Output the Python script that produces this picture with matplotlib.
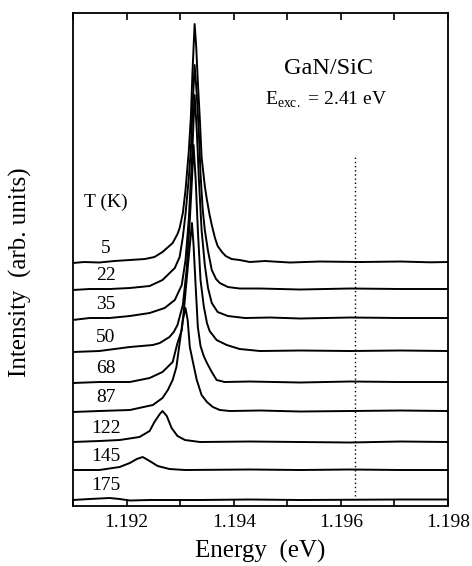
import matplotlib
matplotlib.use("Agg")
from matplotlib import pyplot as plt
from matplotlib.ticker import MultipleLocator, FormatStrFormatter

plt.rcParams['font.family'] = ['Liberation Serif', 'DejaVu Serif']
plt.rcParams['mathtext.fontset'] = 'custom'
plt.rcParams['mathtext.rm'] = 'Liberation Serif'

# temperatures (K) and vertical offsets of the stacked spectra
temps = [5, 22, 35, 50, 68, 87, 122, 145, 175]
offsets = [24.4, 21.7, 18.8, 15.5, 12.4, 9.5, 6.4, 3.6, 0.7]

# spectra: energy (eV), intensity (arb. units, above baseline)
e_5 = [1.19099, 1.19121, 1.19149, 1.19177, 1.19206, 1.19234, 1.19252, 1.19267, 1.19286, 1.19295,
       1.19299, 1.19305, 1.19310, 1.19316, 1.19320, 1.19323, 1.19327, 1.19330, 1.19333, 1.19337,
       1.19340, 1.19346, 1.19350, 1.19355, 1.19359, 1.19365, 1.19370, 1.19378, 1.19385, 1.19396,
       1.19411, 1.19430, 1.19458, 1.19505, 1.19561, 1.19636, 1.19711, 1.19767, 1.19800]
i_5 = [-0.1, 0, -0.05, 0.1, 0.2, 0.3, 0.5, 1.0, 1.9, 2.8,
       3.4, 4.9, 7.2, 11.0, 14.5, 19.0, 23.8, 21.5, 18.0, 14.0,
       10.5, 7.6, 6.2, 4.7, 3.7, 2.4, 1.6, 1.0, 0.6, 0.3,
       0.2, 0, 0.1, -0.05, 0.05, 0, 0.05, -0.03, 0]

e_22 = [1.19099, 1.19131, 1.19168, 1.19206, 1.19243, 1.19267, 1.19290, 1.19299, 1.19305, 1.19310,
        1.19316, 1.19320, 1.19323, 1.19327, 1.19331, 1.19335, 1.19338, 1.19342, 1.19346, 1.19352,
        1.19359, 1.19367, 1.19374, 1.19389, 1.19411, 1.19449, 1.19524, 1.19617, 1.19711, 1.19800]
i_22 = [-0.1, 0, 0, 0.1, 0.3, 0.9, 2.1, 3.2, 5.2, 7.5,
        11.0, 14.0, 18.0, 22.4, 19.5, 15.5, 11.5, 8.0, 5.9, 3.8,
        1.9, 1.0, 0.6, 0.2, 0.05, 0.05, -0.05, 0.05, 0, 0]

e_35 = [1.19099, 1.19131, 1.19168, 1.19206, 1.19243, 1.19271, 1.19290, 1.19303, 1.19310, 1.19316,
        1.19322, 1.19327, 1.19331, 1.19335, 1.19340, 1.19346, 1.19352, 1.19359, 1.19370, 1.19389,
        1.19421, 1.19468, 1.19524, 1.19617, 1.19711, 1.19800]
i_35 = [-0.2, 0, 0, 0.2, 0.5, 1.0, 1.8, 3.3, 5.8, 9.8,
        15.8, 22.3, 18.8, 13.8, 8.8, 5.3, 3.0, 1.5, 0.6, 0.2,
        0, 0.05, -0.05, 0.05, 0, 0]

e_50 = [1.19099, 1.19149, 1.19206, 1.19249, 1.19262, 1.19280, 1.19288, 1.19295, 1.19305, 1.19312,
        1.19318, 1.19322, 1.19325, 1.19329, 1.19333, 1.19338, 1.19344, 1.19350, 1.19355, 1.19368,
        1.19387, 1.19411, 1.19449, 1.19524, 1.19617, 1.19711, 1.19800]
i_50 = [-0.1, 0, 0.4, 0.6, 0.8, 1.4, 1.9, 2.6, 4.6, 8.1,
        13.1, 17.1, 20.6, 17.1, 12.1, 7.1, 4.5, 2.8, 2.0, 1.1,
        0.6, 0.2, 0, 0.05, 0, 0.05, 0]

e_68 = [1.19099, 1.19149, 1.19206, 1.19243, 1.19267, 1.19286, 1.19295, 1.19303, 1.19307, 1.19310,
        1.19316, 1.19322, 1.19325, 1.19329, 1.19333, 1.19338, 1.19344, 1.19350, 1.19359, 1.19368,
        1.19383, 1.19430, 1.19524, 1.19617, 1.19711, 1.19800]
i_68 = [-0.1, 0, 0, 0.4, 1.0, 2.0, 3.9, 5.2, 7.2, 9.0,
        12.5, 15.9, 13.7, 9.5, 5.5, 3.6, 2.6, 1.9, 1.0, 0.2,
        0, 0.05, -0.05, 0.05, 0, 0]

e_87 = [1.19099, 1.19149, 1.19206, 1.19249, 1.19267, 1.19277, 1.19286, 1.19293, 1.19299, 1.19305,
        1.19310, 1.19314, 1.19318, 1.19325, 1.19331, 1.19340, 1.19350, 1.19361, 1.19374, 1.19393,
        1.19449, 1.19524, 1.19617, 1.19711, 1.19800]
i_87 = [-0.1, 0, 0.1, 0.6, 1.3, 2.1, 3.1, 4.4, 6.8, 9.1,
        10.3, 9.1, 6.4, 4.6, 3.1, 1.6, 0.9, 0.4, 0.1, 0,
        0.05, -0.05, 0, 0.05, 0]

e_122 = [1.19099, 1.19149, 1.19187, 1.19224, 1.19243, 1.19252, 1.19262, 1.19267, 1.19275, 1.19284,
         1.19295, 1.19309, 1.19337, 1.19430, 1.19524, 1.19617, 1.19711, 1.19800]
i_122 = [0, 0.1, 0.2, 0.5, 1.1, 2.0, 2.8, 3.1, 2.6, 1.4,
         0.6, 0.2, 0, 0.05, 0, -0.05, 0.05, 0]

e_145 = [1.19099, 1.19149, 1.19187, 1.19206, 1.19219, 1.19230, 1.19243, 1.19258, 1.19280, 1.19309,
         1.19430, 1.19524, 1.19617, 1.19711, 1.19800]
i_145 = [0, 0, 0.3, 0.7, 1.1, 1.3, 0.9, 0.4, 0.1, 0,
         0.05, 0, 0.05, 0, 0]

e_175 = [1.19099, 1.19131, 1.19168, 1.19187, 1.19206, 1.19243, 1.19337, 1.19430, 1.19524, 1.19711,
         1.19800]
i_175 = [-0.1, 0, 0.1, 0, -0.15, -0.1, -0.1, -0.05, -0.1, -0.05, -0.05]

energies = [e_5, e_22, e_35, e_50, e_68, e_87, e_122, e_145, e_175]
intensities = [i_5, i_22, i_35, i_50, i_68, i_87, i_122, i_145, i_175]

laser_line = 1.19627

fig = plt.figure(figsize=(4.72, 5.66), dpi=100)
ax = fig.add_axes([0.1547, 0.106, 0.7945, 0.871])

for e, i, off in zip(energies, intensities, offsets):
    ax.plot(e, [v + off for v in i], color="black", lw=1.4)

for t, off in zip(temps, offsets):
    ax.text(1.19161, off + 1.35, str(t), ha="center", va="center", fontsize=14)
ax.text(1.19161, 30.4, "T (K)", ha="center", va="center", fontsize=14)

ax.plot([laser_line, laser_line], [1.0, 35.1], color="black", lw=1.0, ls=(0, (1, 2)))

ax.text(0.68, 0.888, "GaN/SiC", transform=ax.transAxes, ha="center", va="center", fontsize=17.5)
ax.text(0.675, 0.824, r"E$_{\mathregular{exc.}}$ = 2.41 eV", transform=ax.transAxes,
        ha="center", va="center", fontsize=14)

ax.set_xlim(1.191, 1.198)
ax.set_ylim(0, 49.3)
ax.xaxis.set_major_locator(MultipleLocator(0.002))
ax.xaxis.set_minor_locator(MultipleLocator(0.001))
ax.xaxis.set_major_formatter(FormatStrFormatter("%.3f"))
ax.tick_params(axis="x", which="both", direction="in", top=True, length=5, width=1.2,
               labelsize=14, pad=6)
ax.set_yticks([])
for s in ax.spines.values():
    s.set_linewidth(1.3)

ax.set_xlabel("Energy  (eV)", fontsize=18, labelpad=6)
ax.set_ylabel("Intensity  (arb. units)", fontsize=18)
ax.yaxis.set_label_coords(-0.109, 0.475)

fig.savefig("out.png", dpi=100)
